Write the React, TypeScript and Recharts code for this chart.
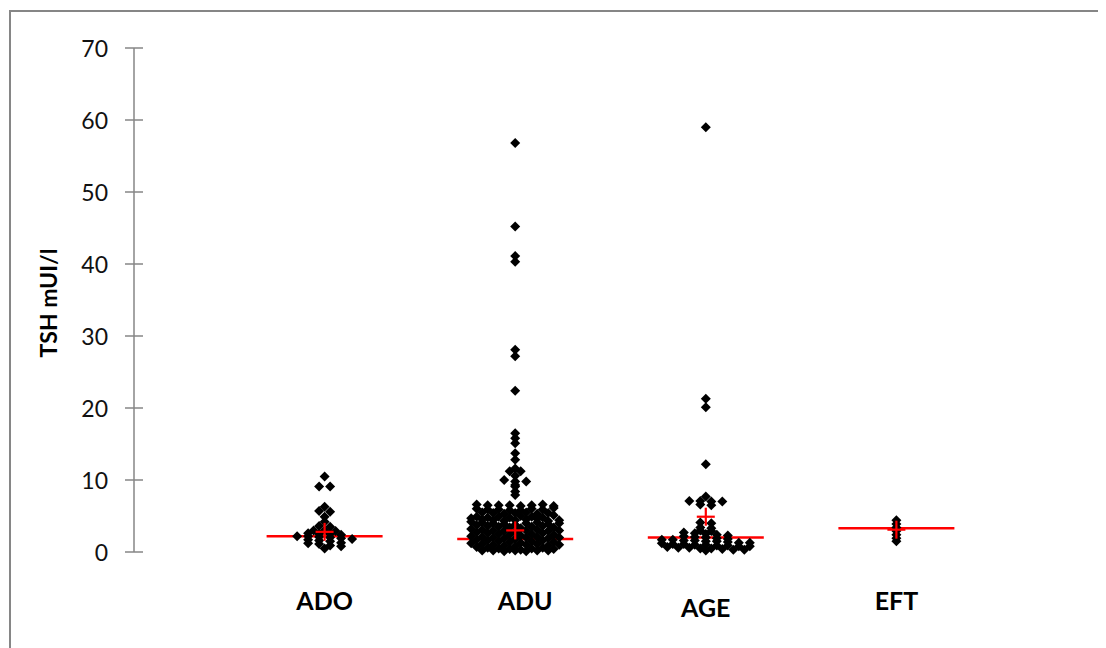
import React from "react";
import { ScatterChart, Scatter, XAxis, YAxis } from "recharts";

const CATEGORIES = ["ADO", "ADU", "AGE", "EFT"];

const ADO = [
  10.5, 9.1, 9.1, 6.3, 5.7, 5.6, 4.9, 4.2, 3.6, 3.5, 3.0, 3.0, 2.9, 2.6, 2.5, 2.5, 2.4,
  2.2, 2.2, 2.1, 2.0, 1.9, 1.8, 1.7, 1.6, 1.5, 1.3, 1.2, 1.1, 0.9, 0.8, 0.5,
];

const ADU = [
  56.8, 45.2, 41.1, 40.3, 28.1, 27.2, 22.4, 16.5, 15.8, 15.1, 13.7, 12.8, 11.6, 11.2, 11.2,
  10.6, 10.0, 9.8, 9.8, 9.3, 9.1, 8.4, 7.9,
  6.6, 6.5, 6.5, 6.5, 6.4, 6.5, 6.6, 6.4,
  6.0, 5.9, 5.9, 5.8, 5.8, 6.0, 5.9, 6.1,
  5.5, 5.4, 5.3, 5.4, 5.5, 5.3, 5.4,
  4.9, 4.8, 4.9, 4.8, 5.0, 4.9, 4.8, 5.1, 4.7,
  4.5, 4.4, 4.3, 4.4, 4.5, 4.6, 4.3, 4.4,
  4.2, 4.1, 4.0, 3.9, 3.8, 4.0, 4.1, 3.9, 4.0,
  3.7, 3.6, 3.5, 3.4, 3.3, 3.5, 3.6, 3.4,
  3.2, 3.1, 3.0, 2.9, 2.8, 3.0, 3.1, 2.9, 3.0,
  2.7, 2.6, 2.5, 2.4, 2.3, 2.5, 2.6, 2.4,
  2.2, 2.1, 2.0, 1.9, 1.8, 2.0, 2.1, 1.9, 2.0,
  1.7, 1.6, 1.5, 1.4, 1.3, 1.5, 1.6, 1.4,
  1.2, 1.1, 1.0, 0.9, 0.8, 1.0, 1.1, 0.9, 1.0,
  0.7, 0.6, 0.5, 0.4, 0.3, 0.5, 0.6, 0.4,
  0.2, 0.2, 0.1, 0.2, 0.1, 0.2, 0.2,
];

const AGE = [
  59.0, 21.3, 20.1, 12.2, 7.7, 7.1, 7.1, 7.0, 7.0, 6.6, 6.5, 4.1, 4.0, 3.4, 3.3, 3.0, 2.9,
  2.7, 2.6, 2.5, 2.4, 2.3, 2.2, 2.1, 2.0, 1.9, 1.8,
  1.7, 1.7, 1.6, 1.6, 1.5, 1.5, 1.4, 1.3, 1.3,
  1.2, 1.1, 1.1, 1.0, 1.0, 0.9, 0.9, 0.8, 0.8,
  0.7, 0.6, 0.6, 0.5, 0.5, 0.4, 0.3, 0.3, 0.2,
];

const EFT = [4.4, 3.9, 3.4, 2.9, 2.4, 1.9, 1.5];

const GROUPS = [ADO, ADU, AGE, EFT];
const MEDIANS = [2.2, 1.8, 2.0, 3.3];
const MEANS = [2.8, 3.0, 4.9, 3.1];
const Y_TICKS = [0, 10, 20, 30, 40, 50, 60, 70];

// layout
const W = 1098;
const H = 640;
const PLOT_LEFT = 126;
const PLOT_TOP = 40;
const PLOT_BOTTOM = 544;
const BIN = 0.5; // y-bin for the dot stacking
const STEP = 0.0577; // horizontal spacing between stacked dots (x units)
const AXIS = "#868686";
const FONT = "Lato, 'Open Sans', sans-serif";
const LABEL_NUDGE: Record<string, [number, number]> = { ADU: [10, 0], AGE: [0, 7] };

// stack dots that fall in the same bin side by side around the category centre
function swarm(values: number[], pos: number) {
  const bins: Record<number, number[]> = {};
  values.forEach((v) => {
    const b = Math.round(v / BIN);
    (bins[b] = bins[b] || []).push(v);
  });
  const out: { x: number; y: number }[] = [];
  Object.values(bins).forEach((row) => {
    row.forEach((v, i) => {
      out.push({ x: pos + (i - (row.length - 1) / 2) * STEP, y: v });
    });
  });
  return out;
}

const dots = GROUPS.flatMap((g, i) => swarm(g, i + 1));
const medianData = MEDIANS.map((m, i) => ({ x: i + 1, y: m }));
const meanData = MEANS.map((m, i) => ({ x: i + 1, y: m }));

const Diamond = (props: any) => {
  const { cx, cy } = props;
  const r = 5;
  return (
    <polygon
      points={`${cx},${cy - r} ${cx + r},${cy} ${cx},${cy + r} ${cx - r},${cy}`}
      fill="#000"
    />
  );
};

const MedianLine = (props: any) => {
  const { cx, cy } = props;
  return <line x1={cx - 58} x2={cx + 58} y1={cy} y2={cy} stroke="#ff0000" strokeWidth={2.5} />;
};

const Plus = (props: any) => {
  const { cx, cy } = props;
  return (
    <g stroke="#ff0000" strokeWidth={2.2}>
      <line x1={cx - 9} x2={cx + 9} y1={cy} y2={cy} />
      <line x1={cx} x2={cx} y1={cy - 9} y2={cy + 9} />
    </g>
  );
};

const YTick = (props: any) => {
  const { y, payload } = props;
  return (
    <g>
      <line x1={PLOT_LEFT - 9} x2={PLOT_LEFT + 9} y1={y} y2={y} stroke={AXIS} strokeWidth={1.5} />
      <text
        x={PLOT_LEFT - 26}
        y={y}
        textAnchor="end"
        dominantBaseline="central"
        fontFamily={FONT}
        fontSize={23}
        fill="#111"
      >
        {payload.value}
      </text>
    </g>
  );
};

const XTick = (props: any) => {
  const { x, payload } = props;
  const name = CATEGORIES[payload.value - 1];
  const [dx, dy] = LABEL_NUDGE[name] || [0, 0];
  return (
    <text
      x={x + dx}
      y={592 + dy}
      textAnchor="middle"
      dominantBaseline="central"
      fontFamily={FONT}
      fontWeight="bold"
      fontSize={25}
      fill="#000"
    >
      {name}
    </text>
  );
};

export default function App() {
  return (
    <div style={{ position: "relative", width: W, height: H, overflow: "hidden", background: "#fff" }}>
      <div
        style={{
          position: "absolute",
          left: 1,
          top: 2,
          width: W + 20,
          height: H + 20,
          border: `2px solid ${AXIS}`,
          boxSizing: "border-box",
        }}
      />
      <ScatterChart
        width={W}
        height={H}
        margin={{ top: PLOT_TOP, right: 19, bottom: 0, left: 0 }}
        style={{ position: "absolute", left: 0, top: 0 }}
      >
        <XAxis
          type="number"
          dataKey="x"
          domain={[0, 5]}
          ticks={[1, 2, 3, 4]}
          axisLine={false}
          tickLine={false}
          tick={<XTick />}
          height={H - PLOT_BOTTOM}
          allowDataOverflow
        />
        <YAxis
          type="number"
          dataKey="y"
          domain={[0, 70]}
          ticks={Y_TICKS}
          width={PLOT_LEFT}
          axisLine={{ stroke: AXIS, strokeWidth: 1.5 }}
          tickLine={false}
          tick={<YTick />}
          label={{
            content: () => (
              <text
                x={40}
                y={295}
                transform="rotate(-90 40 295)"
                textAnchor="middle"
                dominantBaseline="central"
                fontFamily={FONT}
                fontWeight="bold"
                fontSize={23}
                fill="#000"
              >
                TSH mUI/l
              </text>
            ),
          }}
        />
        <Scatter data={medianData} shape={<MedianLine />} isAnimationActive={false} />
        <Scatter data={dots} shape={<Diamond />} isAnimationActive={false} />
        <Scatter data={meanData} shape={<Plus />} isAnimationActive={false} />
      </ScatterChart>
    </div>
  );
}
